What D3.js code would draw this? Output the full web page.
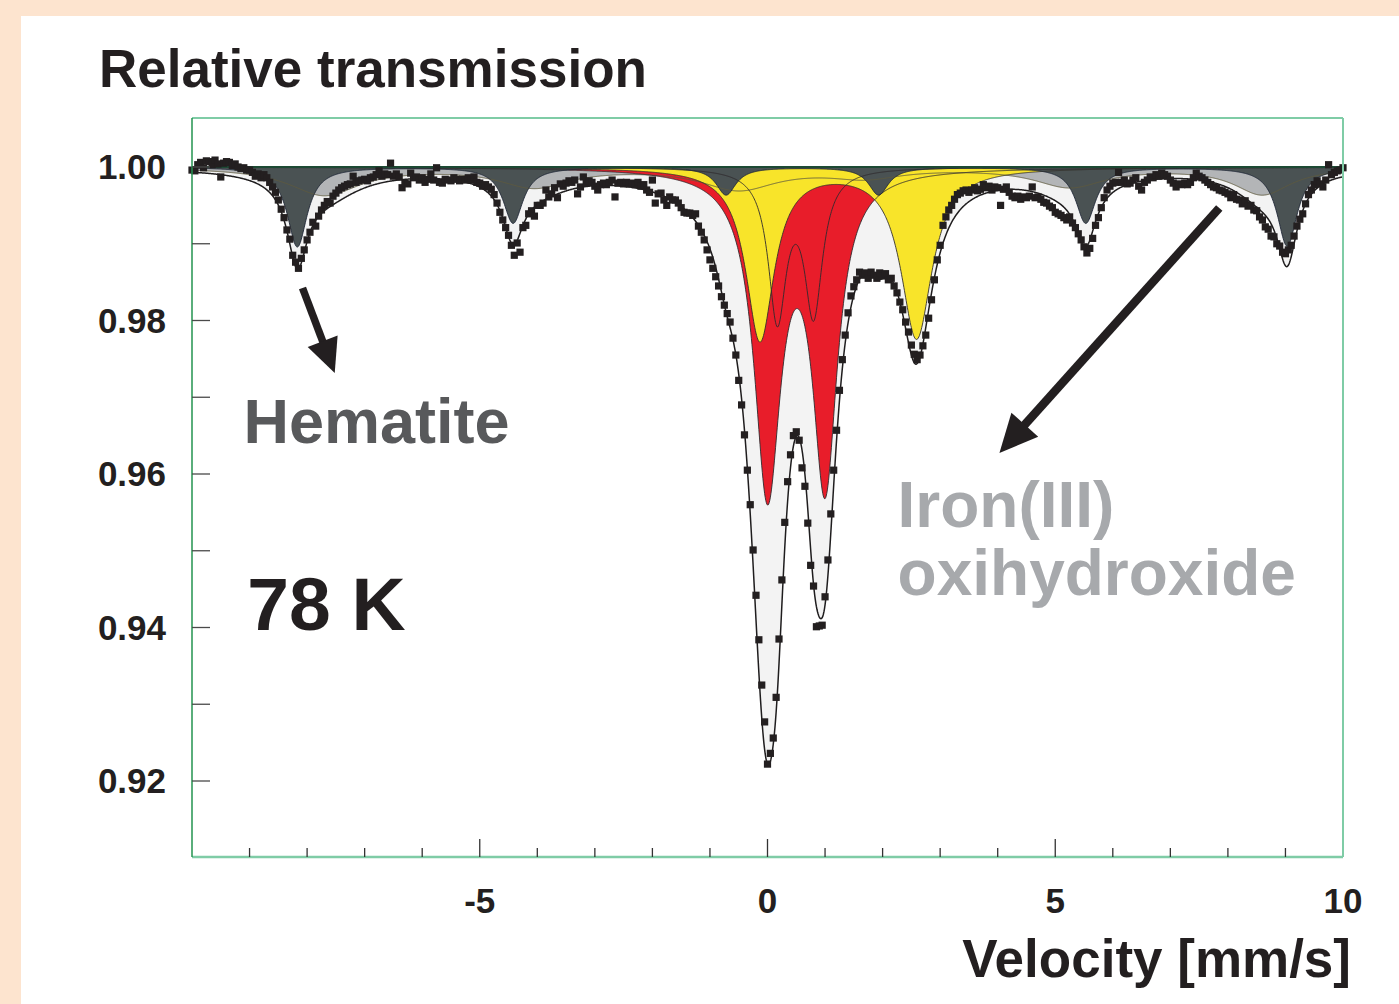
<!DOCTYPE html>
<html>
<head>
<meta charset="utf-8">
<script src="https://cdn.jsdelivr.net/npm/d3@7"></script>
<style>
  html, body { margin: 0; padding: 0; background: #fde4cf; }
  svg { display: block; }
  text { font-family: "Liberation Sans", Arial, Helvetica, sans-serif; font-weight: bold; }
</style>
</head>
<body>
<svg id="chart" width="1399" height="1004"></svg>
<script>
// ---- Measured spectrum: relative transmission per channel, 78 K ----
const velocityStart = -10;     // mm/s, first channel
const velocityStep = 0.05;     // mm/s per channel
const transmission = [
  // -10.00 .. -9.05
  0.9996, 0.9995, 1.0003, 1.0006, 0.9999, 1.0008, 1.0007, 1.0003, 1.0009, 1.0004,
  0.9987, 1.0005, 1.0007, 1.0006, 1.0002, 1.0004, 1.0000, 0.9998, 0.9999, 0.9996,
  // -9.00 .. -8.05
  0.9996, 0.9993, 0.9988, 0.9991, 0.9986, 0.9990, 0.9986, 0.9980, 0.9974, 0.9967,
  0.9957, 0.9945, 0.9934, 0.9918, 0.9906, 0.9885, 0.9876, 0.9868, 0.9881, 0.9892,
  // -8.00 .. -7.05
  0.9905, 0.9915, 0.9928, 0.9923, 0.9936, 0.9944, 0.9950, 0.9955, 0.9953, 0.9962,
  0.9966, 0.9970, 0.9973, 0.9975, 0.9977, 0.9978, 0.9988, 0.9980, 0.9982, 0.9983,
  // -7.00 .. -6.05
  0.9984, 0.9982, 0.9986, 0.9987, 0.9990, 0.9995, 0.9988, 0.9991, 0.9990, 1.0005,
  0.9988, 0.9991, 0.9987, 0.9973, 0.9979, 0.9978, 0.9992, 0.9986, 0.9987, 0.9983,
  // -6.00 .. -5.05
  0.9986, 0.9980, 0.9984, 0.9991, 0.9983, 0.9999, 0.9980, 0.9979, 0.9984, 0.9983,
  0.9982, 0.9986, 0.9984, 0.9982, 0.9984, 0.9983, 0.9986, 0.9983, 0.9987, 0.9980,
  // -5.00 .. -4.05
  0.9979, 0.9975, 0.9977, 0.9974, 0.9971, 0.9964, 0.9953, 0.9941, 0.9931, 0.9921,
  0.9911, 0.9898, 0.9885, 0.9901, 0.9889, 0.9921, 0.9924, 0.9939, 0.9943, 0.9936,
  // -4.00 .. -3.05
  0.9950, 0.9950, 0.9953, 0.9970, 0.9961, 0.9965, 0.9973, 0.9960, 0.9978, 0.9975,
  0.9979, 0.9982, 0.9980, 0.9983, 0.9965, 0.9974, 0.9987, 0.9979, 0.9982, 0.9980,
  // -3.00 .. -2.05
  0.9975, 0.9970, 0.9977, 0.9979, 0.9977, 0.9980, 0.9983, 0.9961, 0.9979, 0.9980,
  0.9978, 0.9980, 0.9978, 0.9979, 0.9977, 0.9980, 0.9975, 0.9977, 0.9970, 0.9967,
  // -2.00 .. -1.05
  0.9983, 0.9953, 0.9965, 0.9966, 0.9957, 0.9950, 0.9961, 0.9957, 0.9957, 0.9953,
  0.9947, 0.9941, 0.9940, 0.9940, 0.9937, 0.9939, 0.9923, 0.9915, 0.9905, 0.9892,
  // -1.00 .. -0.05
  0.9879, 0.9868, 0.9857, 0.9845, 0.9831, 0.9820, 0.9809, 0.9798, 0.9777, 0.9755,
  0.9722, 0.9690, 0.9651, 0.9605, 0.9560, 0.9501, 0.9442, 0.9384, 0.9325, 0.9277,
  // 0.00 .. 0.95
  0.9222, 0.9236, 0.9256, 0.9309, 0.9385, 0.9462, 0.9537, 0.9590, 0.9625, 0.9650,
  0.9655, 0.9644, 0.9608, 0.9584, 0.9536, 0.9481, 0.9454, 0.9401, 0.9402, 0.9403,
  // 1.00 .. 1.95
  0.9440, 0.9488, 0.9548, 0.9605, 0.9657, 0.9709, 0.9749, 0.9781, 0.9810, 0.9832,
  0.9844, 0.9853, 0.9863, 0.9859, 0.9862, 0.9855, 0.9863, 0.9859, 0.9855, 0.9862,
  // 2.00 .. 2.95
  0.9858, 0.9861, 0.9853, 0.9855, 0.9845, 0.9836, 0.9824, 0.9814, 0.9798, 0.9785,
  0.9768, 0.9756, 0.9749, 0.9755, 0.9767, 0.9781, 0.9803, 0.9827, 0.9853, 0.9879,
  // 3.00 .. 3.95
  0.9898, 0.9924, 0.9935, 0.9944, 0.9950, 0.9958, 0.9964, 0.9966, 0.9969, 0.9970,
  0.9967, 0.9970, 0.9973, 0.9969, 0.9971, 0.9977, 0.9973, 0.9975, 0.9970, 0.9974,
  // 4.00 .. 4.95
  0.9973, 0.9950, 0.9971, 0.9974, 0.9967, 0.9962, 0.9960, 0.9962, 0.9958, 0.9961,
  0.9960, 0.9962, 0.9974, 0.9960, 0.9961, 0.9958, 0.9954, 0.9953, 0.9949, 0.9947,
  // 5.00 .. 5.95
  0.9941, 0.9939, 0.9937, 0.9934, 0.9931, 0.9935, 0.9927, 0.9921, 0.9913, 0.9905,
  0.9896, 0.9888, 0.9894, 0.9907, 0.9924, 0.9934, 0.9947, 0.9960, 0.9970, 0.9975,
  // 6.00 .. 6.95
  0.9979, 0.9980, 0.9993, 0.9980, 0.9983, 0.9978, 0.9979, 0.9983, 0.9986, 0.9975,
  0.9970, 0.9980, 0.9983, 0.9987, 0.9986, 0.9990, 0.9988, 0.9992, 0.9990, 0.9988,
  // 7.00 .. 7.95
  0.9983, 0.9979, 0.9974, 0.9978, 0.9977, 0.9979, 0.9977, 0.9980, 0.9986, 0.9992,
  0.9988, 0.9986, 0.9983, 0.9980, 0.9977, 0.9974, 0.9973, 0.9970, 0.9969, 0.9967,
  // 8.00 .. 8.95
  0.9965, 0.9960, 0.9964, 0.9958, 0.9957, 0.9952, 0.9956, 0.9949, 0.9950, 0.9944,
  0.9943, 0.9935, 0.9931, 0.9922, 0.9919, 0.9910, 0.9909, 0.9900, 0.9897, 0.9889,
  // 9.00 .. 9.95
  0.9887, 0.9892, 0.9898, 0.9910, 0.9923, 0.9932, 0.9939, 0.9952, 0.9964, 0.9970,
  0.9977, 0.9982, 0.9978, 0.9974, 0.9983, 1.0003, 0.9990, 0.9993, 0.9995, 0.9996,
  // 10.00
  0.9999
];

// ---- Fitted subspectra: line positions (mm/s), depths, half widths (mm/s) ----
// Hematite sextet
const hematitePos   = [-8.17, -4.42, -0.72, 1.93, 5.53, 9.03];
const hematiteDepth = [0.0104, 0.0073, 0.0036, 0.0036, 0.0073, 0.0103];
const hematiteWidth = [0.21, 0.21, 0.21, 0.21, 0.21, 0.21];
// Iron(III) oxihydroxide, broad magnetic sextet
const oxihydroxidePos   = [-7.70, -4.05, -0.50, 1.70, 5.25, 8.60];
const oxihydroxideDepth = [0.0036, 0.0025, 0.0028, 0.0012, 0.0025, 0.0035];
const oxihydroxideWidth = [0.75, 0.75, 0.80, 0.75, 0.75, 0.60];
// Fe3+ doublets
const ferricOuterPos   = [0.00, 1.00];
const ferricOuterDepth = [0.0415, 0.0402];
const ferricOuterWidth = [0.28, 0.26];
const ferricInnerPos   = [0.17, 0.80];
const ferricInnerDepth = [0.0193, 0.0185];
const ferricInnerWidth = [0.19, 0.19];
// Fe2+ doublet
const ferrousPos   = [-0.13, 2.59];
const ferrousDepth = [0.0225, 0.0222];
const ferrousWidth = [0.30, 0.33];

// ---- Axis ticks ----
const yTickValues = [0.92, 0.93, 0.94, 0.95, 0.96, 0.97, 0.98, 0.99, 1.00];
const yTickLabels = [0.92, 0.94, 0.96, 0.98, 1.00];
const xTickValues = d3.range(-9, 10);
const xTickLabels = [-5, 0, 5, 10];

// ---- Layout ----
const W = 1399, H = 1004;
const plot = { left: 192, right: 1343, top: 118, bottom: 857 };

const svg = d3.select("#chart");

// page background panel
svg.append("rect").attr("x", 0).attr("y", 0).attr("width", W).attr("height", H).attr("fill", "#fde4cf");
svg.append("rect").attr("x", 21).attr("y", 16).attr("width", W - 21).attr("height", H - 16).attr("fill", "#ffffff");

const x = d3.scaleLinear().domain([-10, 10]).range([plot.left, plot.right]);
const y = d3.scaleLinear().domain([0.92, 1.00]).range([781, 167]);

svg.append("defs").append("clipPath").attr("id", "plotClip")
  .append("rect").attr("x", plot.left).attr("y", plot.top)
  .attr("width", plot.right - plot.left).attr("height", plot.bottom - plot.top);

// Lorentzian absorption of one subspectrum
function absorption(pos, depth, width, v) {
  let s = 0;
  for (let i = 0; i < pos.length; i++) {
    const u = (v - pos[i]) / width[i];
    s += depth[i] / (1 + u * u);
  }
  return s;
}

const components = [
  { key: "oxihydroxide", pos: oxihydroxidePos, depth: oxihydroxideDepth, width: oxihydroxideWidth, fill: "#b3b5b7", stroke: "#5f5a3e" },
  { key: "ferricOuter",  pos: ferricOuterPos,  depth: ferricOuterDepth,  width: ferricOuterWidth,  fill: "#e81d2a", stroke: "#2f2a2e" },
  { key: "ferricInner",  pos: ferricInnerPos,  depth: ferricInnerDepth,  width: ferricInnerWidth,  fill: "#e81d2a", stroke: "#2f2a2e" },
  { key: "ferrous",      pos: ferrousPos,      depth: ferrousDepth,      width: ferrousWidth,      fill: "#f8e42a", stroke: "#33302a" },
  { key: "hematite",     pos: hematitePos,     depth: hematiteDepth,     width: hematiteWidth,     fill: "#4a5253", stroke: "#1e2636" }
];

const grid = d3.range(0, 2001).map(i => -10 + i * 0.01);
components.forEach(c => {
  c.curve = grid.map(v => ({ v, t: 1 - absorption(c.pos, c.depth, c.width, v) }));
});
const envelope = grid.map(v => ({
  v,
  t: 1 - d3.sum(components, c => absorption(c.pos, c.depth, c.width, v))
}));

const area = d3.area().x(d => x(d.v)).y0(y(1)).y1(d => y(d.t)).curve(d3.curveLinear);
const line = d3.line().x(d => x(d.v)).y(d => y(d.t)).curve(d3.curveLinear);

const g = svg.append("g").attr("clip-path", "url(#plotClip)");

// envelope fill
g.append("path").datum(envelope).attr("d", area).attr("fill", "#f3f3f3");
// subspectra fills
components.forEach(c => {
  g.append("path").datum(c.curve).attr("d", area).attr("fill", c.fill);
});
// subspectra outlines
components.forEach(c => {
  g.append("path").datum(c.curve).attr("d", line)
    .attr("fill", "none").attr("stroke", c.stroke).attr("stroke-width", 0.9);
});
// total fit
g.append("path").datum(envelope).attr("d", line)
  .attr("fill", "none").attr("stroke", "#1f1d1e").attr("stroke-width", 1.5);

// baseline at 1.00
svg.append("line")
  .attr("x1", plot.left).attr("x2", plot.right)
  .attr("y1", y(1)).attr("y2", y(1))
  .attr("stroke", "#1d4a34").attr("stroke-width", 2.2);

// measured points
const points = transmission.map((t, i) => ({ v: velocityStart + i * velocityStep, t }));
svg.append("g").selectAll("rect").data(points).join("rect")
  .attr("x", d => x(d.v) - 3.6).attr("y", d => y(d.t) - 3.6)
  .attr("width", 7.2).attr("height", 7.2)
  .attr("fill", "#231f20");

// ---- Frame ----
svg.append("line").attr("x1", plot.left).attr("x2", plot.right).attr("y1", plot.top).attr("y2", plot.top)
  .attr("stroke", "#7fcca6").attr("stroke-width", 2);
svg.append("line").attr("x1", plot.right).attr("x2", plot.right).attr("y1", plot.top).attr("y2", plot.bottom)
  .attr("stroke", "#7fcca6").attr("stroke-width", 2);
svg.append("line").attr("x1", plot.left).attr("x2", plot.right).attr("y1", plot.bottom).attr("y2", plot.bottom)
  .attr("stroke", "#7fcca6").attr("stroke-width", 2.4);
svg.append("line").attr("x1", plot.left).attr("x2", plot.left).attr("y1", plot.top).attr("y2", plot.bottom)
  .attr("stroke", "#23934f").attr("stroke-width", 1.5);

// ---- Y axis: inner ticks + labels ----
const yAxis = svg.append("g");
yAxis.selectAll("line").data(yTickValues).join("line")
  .attr("x1", plot.left).attr("x2", plot.left + 18)
  .attr("y1", d => y(d)).attr("y2", d => y(d))
  .attr("stroke", "#4a4a4a").attr("stroke-width", 1.3);
yAxis.selectAll("text").data(yTickLabels).join("text")
  .attr("x", 166).attr("y", d => y(d) + 12)
  .attr("text-anchor", "end").attr("font-size", 35).attr("fill", "#231f20")
  .text(d => d.toFixed(2));

// ---- X axis: inner ticks + labels ----
const xAxis = svg.append("g");
xAxis.selectAll("line").data(xTickValues).join("line")
  .attr("x1", d => x(d)).attr("x2", d => x(d))
  .attr("y1", plot.bottom).attr("y2", d => plot.bottom - (d % 5 === 0 ? 18 : 9))
  .attr("stroke", "#333333").attr("stroke-width", 1.3);
xAxis.selectAll("text").data(xTickLabels).join("text")
  .attr("x", d => x(d)).attr("y", 913)
  .attr("text-anchor", "middle").attr("font-size", 35).attr("fill", "#231f20")
  .text(d => String(d));

// ---- Titles ----
svg.append("text").attr("x", 99).attr("y", 87).attr("font-size", 53).attr("fill", "#231f20")
  .text("Relative transmission");
svg.append("text").attr("x", 1351).attr("y", 977).attr("text-anchor", "end")
  .attr("font-size", 53).attr("fill", "#231f20")
  .text("Velocity [mm/s]");

// ---- Annotations (placed in data coordinates) ----
svg.append("text").attr("x", x(-9.105)).attr("y", y(0.9640)).attr("font-size", 63).attr("fill", "#58595b")
  .text("Hematite");
svg.append("text").attr("x", x(-9.04)).attr("y", y(0.9397)).attr("font-size", 75).attr("fill", "#231f20")
  .text("78 K");
svg.append("text").attr("x", x(2.26)).attr("y", y(0.9531)).attr("font-size", 64).attr("fill", "#a7a9ac")
  .text("Iron(III)");
svg.append("text").attr("x", x(2.26)).attr("y", y(0.9442)).attr("font-size", 64).attr("fill", "#a7a9ac")
  .text("oxihydroxide");

function arrow(v0, t0, v1, t1, headLen, headHalf, shaft) {
  const x0 = x(v0), y0 = y(t0), x1 = x(v1), y1 = y(t1);
  const dx = x1 - x0, dy = y1 - y0, L = Math.hypot(dx, dy);
  const ux = dx / L, uy = dy / L, nx = -uy, ny = ux;
  const bx = x1 - ux * headLen, by = y1 - uy * headLen;
  svg.append("line").attr("x1", x0).attr("y1", y0).attr("x2", bx + ux * 2).attr("y2", by + uy * 2)
    .attr("stroke", "#231f20").attr("stroke-width", shaft);
  svg.append("path")
    .attr("d", `M${x1},${y1}L${bx + nx * headHalf},${by + ny * headHalf}L${bx - nx * headHalf},${by - ny * headHalf}Z`)
    .attr("fill", "#231f20");
}
arrow(-8.08, 0.98423, -7.52, 0.97316, 34, 16, 7.5);
arrow(7.85, 0.99466, 4.03, 0.96274, 38, 18, 8.5);
</script>
</body>
</html>
